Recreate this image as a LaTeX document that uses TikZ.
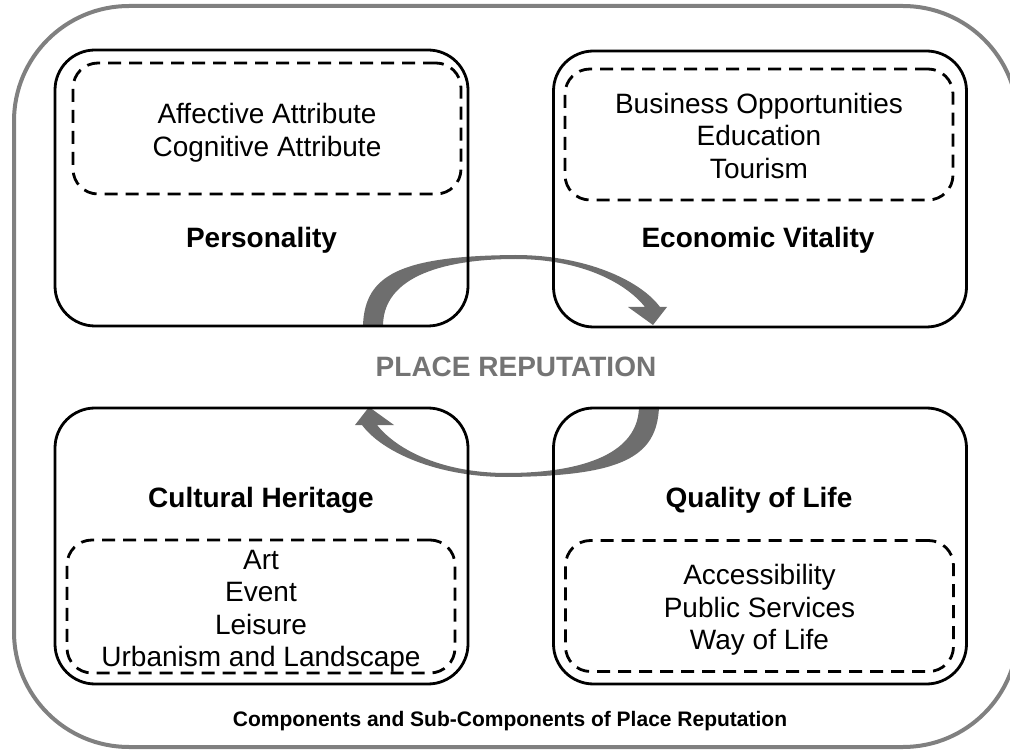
\documentclass[tikz,border=0pt]{standalone}
\usepackage{fontspec}
\setmainfont{Liberation Sans}
\usetikzlibrary{positioning}
\definecolor{frameGray}{HTML}{808080}
\definecolor{arrowGray}{HTML}{6E6E6E}
\definecolor{labelGray}{HTML}{747474}
\newcommand{\boxWidth}{413pt}
\newcommand{\boxHeight}{276pt}
\newcommand{\subWidth}{388pt}
\newcommand{\subHeight}{131pt}

\begin{document}
\begin{tikzpicture}[x=1pt, y=-1pt,
		mainBox/.style={draw, line width=2.8pt, rounded corners=40pt, minimum width=\boxWidth, minimum height=\boxHeight, inner sep=0pt},
		subBox/.style={draw, line width=2.8pt, dash pattern=on 13pt off 8pt, rounded corners=25pt, minimum width=\subWidth, minimum height=\subHeight, inner sep=0pt},
		subList/.style={inner sep=0pt, align=center, font=\fontsize{28}{32.5}\selectfont},
		title/.style={anchor=base, font=\fontsize{28}{32}\selectfont\bfseries}]
	\useasboundingbox (0,0) rectangle (1010,751);
	% outer frame
	\draw[frameGray, line width=4pt, rounded corners=115pt] (14,6) rectangle (1018,747);
	% the two swooshes
	\foreach \ang in {0,180}
		\fill[arrowGray, rotate around={\ang:(511,366)}] (363,325) .. controls (365,275) and (400,256) .. (515,255)
			.. controls (585,255) and (640,280) .. (660,307) -- (667,307) -- (653,325) -- (628,307) -- (645,307)
			.. controls (625,282) and (580,259) .. (515,259) .. controls (460,259) and (384,270) .. (383,325) -- cycle;
	% components
	\node[mainBox] (personality) at (261.5,188) {};
	\node[mainBox] (economic) at (760,189) {};
	\node[mainBox] (cultural) at (261.5,546) {};
	\node[mainBox] (quality) at (760,546) {};
	% sub-components
	\node[subBox] (personalitySub) at (267,128.5) {};
	\node[subBox] (economicSub) at (759,134.5) {};
	\node[subBox, minimum height=133pt] (culturalSub) at (261,606.5) {};
	\node[subBox] (qualitySub) at (759.5,606) {};
	\node[subList] (personalityList) at (267,133) {Affective Attribute\\Cognitive Attribute};
	\node[subList] (economicList) at (759,135.5) {Business Opportunities\\Education\\Tourism};
	\node[subList] (culturalList) at (261,611.5) {Art\\Event\\Leisure\\Urbanism and Landscape};
	\node[subList] (qualityList) at (759.5,610) {Accessibility\\Public Services\\Way of Life};
	% titles
	\node[title] (personalityTitle) at (261.5,248) {Personality};
	\node[title] (economicTitle) at (758,248) {Economic Vitality};
	\node[title] (culturalTitle) at (261,507) {Cultural Heritage};
	\node[title] (qualityTitle) at (759,507) {Quality of Life};
	\node[title, text=labelGray] (reputation) at (516,377) {PLACE REPUTATION};
	\node[anchor=base, font=\fontsize{21}{24}\selectfont\bfseries] (caption) at (510,726) {Components and Sub-Components of Place Reputation};
\end{tikzpicture}
\end{document}
